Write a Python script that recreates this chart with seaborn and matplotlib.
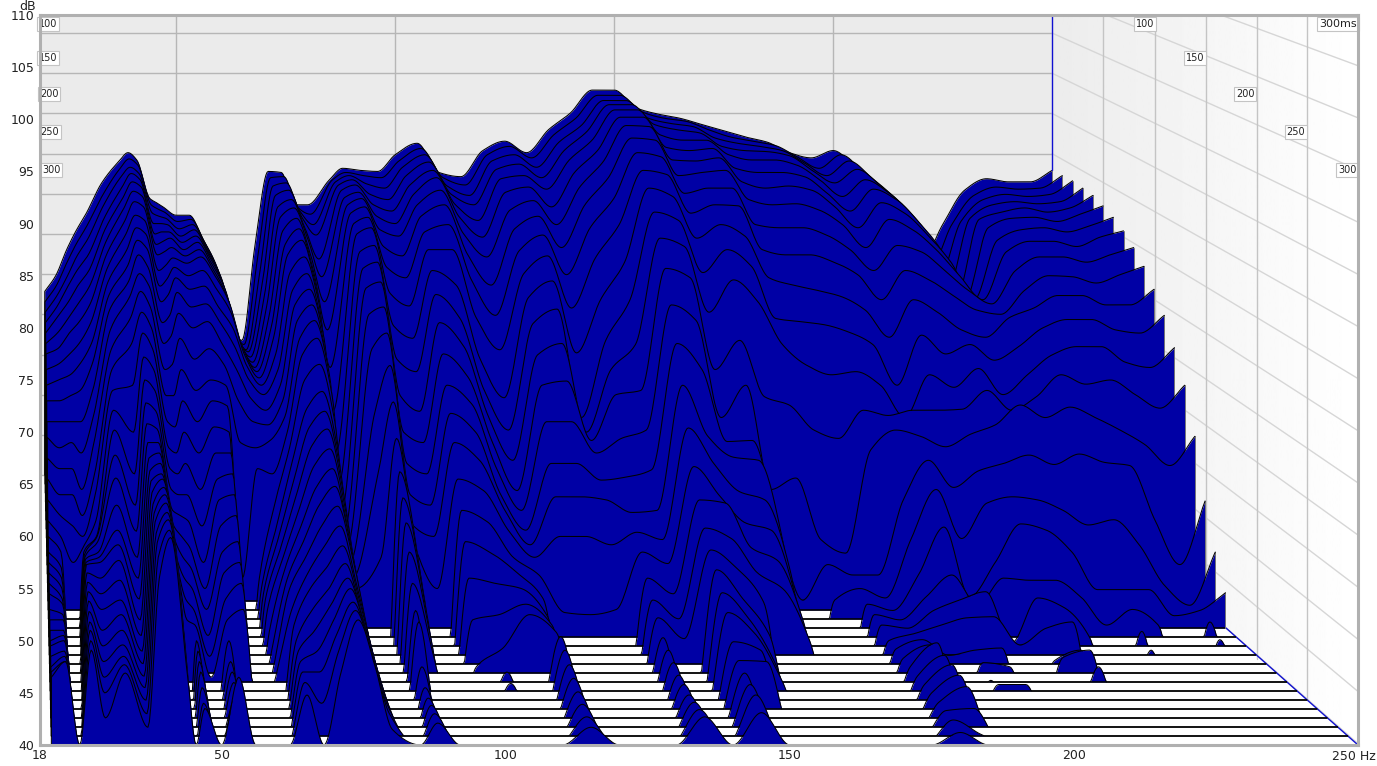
import numpy as np
import pandas as pd
import matplotlib
matplotlib.use("Agg")
import matplotlib.pyplot as plt
from matplotlib.patches import Polygon
import seaborn as sns

L = 40  # at or under the noise floor of the slice
# level in dB, one value per 10 ms slice (0..300 ms), per frequency
hz020 = [83.5,82.5,81.5,80.5,79.5,78.5,77.5,76,74.5,73,71,69.5,67.5,65.5,63.5,61.5,60,58.5,57.5,56.5,55.5,54.5,53,52,51,50,49.5,48.5,47.5,47,46.5]
hz022 = [85,84,83,82,81,79.5,78,76.5,75,73,71,68.5,66.5,64,62,60,58.5,57,56,55,54,53.5,52.5,52,51,50.5,50,49,48.5,48,48]
hz025 = [87.5,86.3,85,84,82.5,81,79.5,77.5,75.5,73.5,71,69,66.5,64,61,57.5]+[L]*15
hz027 = [89.2,88,86.8,85.5,84,82.3,80.5,78.5,76.5,74,71,68,64.5,62,60,59,58.5,58.2,58,57.8,57.5,57.3,56.5,55.6,54.7,53.8,52.8,51.8,51,50,49.1]
hz029 = [91,89.8,88.5,87,85.5,84,82.3,80.5,78.5,76.5,74,71.5,69,66,64,61.5,60,60,59.5,58.5,58,57.5,56,54.5,53,51,49.5,48,46.5,45,42.6]
hz033 = [93.9,92.7,91.7,90.5,89.4,88.2,87,85.7,84.4,83.1,81.7,79.8,77.9,76,74,72.1,70.2,67.8,65.6,63,60.6,59.2,57.7,55.8,53.9,52.5,51,49.6,48.5,47.7,46.9]
hz037 = [96,95.3,94.5,93.5,92.5,91.5,90.3,89,87.5,86,84.5,83,81,78.5,74.5,70,66,63,60.5,58,56,54,52,50.5,49,47.8,46.6,45.5,44.3,43,41.7]
hz039 = [96.8,96.2,95.4,94.8,94,93.1,92.1,90.8,89.6,88.4,87,85.2,83.5,81.5,79.5,77.2,75,72.8,70.8,69,67.5,66.3,65.3,64.2,63.1,62.2,61.4,60.3,59.4,58,56]
hz041 = [96.1,95.6,94.8,94.2,93.5,92.6,91.6,90.3,89,87.6,85.8,84,82,80,78,76,74,72,70.3,69,68,67,66,65.5,64.7,64,63.2,62.3,61.6,60.6,59.9]
hz044 = [92.4,91.8,91,90,89,88,87,85.5,84,82.5,80.5,78.5,76,73.5,71,68.5,66.5,64.5,62.5,61,59.6,58,57,56,55,53.5,52,50.5,49.5,48,46.5]
hz045 = [92,91.4,90.7,90,89.2,88.3,87.3,86,84.7,83.2,81.2,79.2,76.5,73.5,70.5,68,66,64,62,60,58,56,54,52]+[L]*7
hz047 = [91.6,91.1,90.5,89.9,89.2,88.6,87.7,86.7,85.8,84.8,83.4,81.4,79,76,73,70,67,64,61.5,59,57,55,53,51.5,50,49,48,47,45.5,44,43.5]
hz050 = [90.8,90.2,89.5,88.8,88.2,87.5,86.9,86.2,85,83.7,82,80,77,74,71,68,64.5,61,57.5,55,53,50.5,48.5,46.5]+[L]*7
hz053 = [90.8,90.4,89.9,89.4,88.8,88.2,87.5,86.8,85.5,84,82.3,80.6,78,75,73,70.5,68,65.5,63.5,61,58.5,56.5,54,52,50,48,47,46,44.5,44.5,46.5]
hz056 = [88.6,88.3,87.8,87.3,86.8,86.2,85.6,85,83.7,82,80.5,78.5,76.5,74.5,72.5,70,68,66,64,62,59.5,57.5,55.5,53]+[L]*7
hz059 = [86,85.7,85.2,84.8,84.2,83.7,83,82.5,81.5,80,78.2,76,73,69,56]+[L]*16
hz062 = [80.7,80.4,80,79.7,79.3,78.9,78.5,78,77.3,76.3,75,73.2,71,68.5,66.5,56,55,54.5,54,53,51,49,47.5,46.5]+[L]*7
hz065 = [78.8,78.4,77.9,77.7,77.2,76.7,76.2,75.8,75.2,74.5,73.6,72.1,70.7,69.2,66,63,61,60,59,58,57,56,55,53,51.5,50,49,48,47,46,44.8]
hz068 = [87.9,86.5,85.2,84,83,82,81,80,79,77.5,76,74.5,73,71.5,70,68.5,67,65.5,64,62.5,61,59.5,58,56.5,55,53,51,49,47,44,40]
hz071 = [95,94.4,93.6,92.7,91.6,90.6,89.3,88,87,85.3,83.6,82.2,80.7,79,77.4,75,72.3,70.5,68.7,66.8,64.8,63,61,59,57,55,53.5,52,50.5,49,47]
hz074 = [94.9,94.5,93.9,93.2,92.3,91.5,90.5,89.5,88.4,86.8,85.2,83.7,82.2,80.7,79,76.5,73.9,72,70.3,68.4,66.5,64.8,62.9,61,59.1,57.4,56,55,53.7,52.9,52]
hz077 = [91.8,91.6,91.2,90.5,89.5,88.5,87,85.5,84,82.5,80.5,79,77,75.5,73.5,71,68.5,66.5,64.5,62.5,60.5,59,57.5,55.5,54,52.5,51.5,50.5,49.5,48.5,47.5]
hz080 = [91.8,90.9,89.9,88.9,86.6,84.9,82.5,79.8,76.2,72,68,65,62.5,60.5,59,57.5,56,55,54,53,52,51,50,49,48,47,46,45,44,43,41.5]
hz085 = [94.2,94.2,94,93.7,93.2,92.5,91.8,91,90,89,87.3,85.7,83.8,81.3,78,72,66,58]+[L]*13
hz088 = [95.3,94.9,94.6,94.2,93.7,93,92.4,91.6,90.6,89.6,87.9,86.3,84.4,82,79.5,76.4,72.9,69.4,66.2,63.7,61.3,58.5,55.5,52.9,51.8,47.5,45.5,44.5,43.8,43,42.1]
hz092 = [95.1,94.6,93.8,92.8,91.8,90.7,89.4,87.8,85.8,83.3,80.2,77,73.5,70,67,64,61,58.5,56.5,54.5,52.5,50.5,48.5]+[L]*8
hz096 = [95,94.4,93.4,92.3,91.2,90,88.8,86.9,84.8,82.1,79,75.8,72,69,66,63,60,55]+[L]*13
hz100 = [96.6,96,95.4,94.6,93.7,92.8,91.8,90.7,89.2,87.5,85.5,83.2,80.5,77.5,74.5,71.8,69,65.5,62.5,59.5,56,52,47.5]+[L]*8
hz105 = [97.7,97.2,96.6,95.9,95.1,94.4,93.2,91.8,89.9,87.5,84.1,80.9,78.2,75.3,72.7,70,67.3,64.4,61.4,58.4,55.5,52.5,49.3,47,45.9]+[L]*6
hz110 = [94.9,94.4,93.6,92.8,91.8,90.6,89,87,84.5,81,77,74,71.5,69,66.5,64,62.5,60.5,58,56.5,55,53.5,52.5]+[L]*8
hz115 = [94.5,93.7,92.7,91.8,90.3,88.7,86.8,84.1,81.2,77.9,73.3,70.2,67.3,64.4,62.5,60.6,59.2,58,56.3,54,52.3,51.5,50.8,50.4,49.1,47.7,46.4,45.1,43.9,42.7,41.7]
hz120 = [97,96.6,96,95.2,94.3,93,91.3,89.5,87.4,85.2,82.9,80.4,77.4,74.5,71,67,63.8,60,52.7]+[L]*12
hz125 = [97.9,97.4,96.6,95.7,94.6,93.5,92.2,90.7,88.9,86.9,84.5,81.8,78.5,74.9,71,67,63.8,60,52.5]+[L]*12
hz130 = [96.8,96.3,95.4,94.4,93.3,91.6,89.9,87.7,85.1,81.9,77.6,71.4,70,69.2,68,65.4,63.5,59.2,53]+[L]*12
hz135 = [99,98.5,97.8,97,96.1,94.9,93.5,91.8,89.6,86.7,82.7,78.8,76,73.6,69.4,65.7,62.3,60.4,58.5,56,53.9,52.2,50.3,49.1,47.9,46.7,45.8,44.8,44.1,43.4,42.7]
hz140 = [100.6,100.1,99.4,98.8,98,97,95.9,94.4,92.4,89.9,86.3,82.7,78.4,74,70.2,66.4,62.5,59.7,57.4,54.5,52.1,50.2]+[L]*9
hz145 = [102.8,102.3,101.8,101.4,100.9,100.2,99.4,98.2,96.8,95.1,93.4,91.1,88.6,85.7,82.2,78.5,74.5,70.4,66.7,63.5,60.8,58.7,56.8,54.6,52.7,49.9,48.1,46.9,45.8,44.8,43.1]
hz150 = [102.8,102.3,101.8,101.4,100.9,100.2,99.3,98,96.4,94.7,92.6,90.3,87.8,84.8,80.7,76,69.6,67,63.9,63.2,59.8,56.9,54,52.1,50.7,49.1,48]+[L]*4
hz155 = [101.1,100.7,100.1,99.5,98.5,97.3,96.1,94.6,92.9,91,88.6,85.3,81.5,76,71.4,69.1,67.6,64.3,61.3,58.9,56.5,53.7,50.5,47.7,46.2]+[L]*6
hz160 = [100.5,100.1,99.6,99,98,97,96,94.9,93.4,91.8,89.9,87.5,84.6,78.8,74.5,69.2,67.3,63.5,60.6,57.7,54.9]+[L]*10
hz165 = [100.1,99.8,99.3,98.7,98,97.2,96.3,95.1,93.4,91.7,88.8,85.9,82.5,73.4,64.5,61.1,59,56.6,53.7,51.8,49.9]+[L]*10
hz170 = [99.5,99,98.2,97.4,96.6,95.3,94,92.3,89.9,87.5,84.8,80.9,78.4,72.6,65.6,53.9]+[L]*15
hz175 = [98.9,98.3,97.7,97,96.1,94.9,93.4,91.8,89.6,87,84.1,80.6,76.4,70.2,59.7,57.3,53.9]+[L]*14
hz180 = [98.3,97.9,97.4,96.9,96.1,94.9,93.6,91.9,89.6,87,83.6,80.3,75.5,69.4,58.4,56.3,55,53.5,52.5,51.5,50,49.2,48.3,47.5,46.6,45.8,45,44.1,43.3,42.4,41.2]
hz185 = [97.8,97.5,97,96.5,95.6,94.5,93.2,91.3,88.9,86.3,83,79.6,75.8,72.1,68.3,56.3,54.1,52.9,52,51.2,50.7,50.1,49.6,49.8,48.6,47.7,46.7,45.6,43.5,41,40]
hz190 = [96.8,96.4,95.8,95.1,94.2,92.9,91.6,89.9,87.5,85.1,81.7,78.4,74.5,71.6,70.2,63.5,59.7,56.3,54.2,52.9,51.5,48.6]+[L]*9
hz195 = [96.3,95.3,94.6,93.9,92.6,91.2,89.6,87.7,85.5,82.7,79.1,74.5,71.4,72.1,69.6,67.3,64.5,60.9,56.3,53.9,52.2,49.1,47.9,46.2,45.8]+[L]*6
hz200 = [97,96.6,96,95.2,94.2,93.3,92,90.4,87.9,85.5,82.7,79.3,75.5,72.1,68.6,64.7,59.8,54.2,53.4,54.7,52.3,49.3,47.5,40,45.8]+[L]*6
hz205 = [95.4,94.9,94.4,93.7,93,92.3,91,89.4,87.3,84.6,81.5,77.5,74.3,72.2,69.8,66.3,63.2,57.5,56,49.8,49.6]+[L]*10
hz210 = [93.2,92.9,92.5,91.8,91,90.1,88.9,87.5,85.5,83.1,79.8,78.4,76.1,74,70.7,67,63.8,61.2,55.8,54.1,51.2,48.1,48.4]+[L]*8
hz215 = [90.5,90.1,89.6,88.9,88.1,87.3,86.3,85,83.6,81.7,79.1,76.9,73.6,72.1,72.6,67.8,63.5,60.6,55.8,53.2,51.8,49.1,49.1,47.5]+[L]*7
hz220 = [86.3,85.6,84.6,83.6,82.9,82.7,82.7,82.7,82.3,81.3,81,78.2,75.5,73.4,71.4,66.9,62.5,58.5,54.2,50.3]+[L]*11
hz225 = [89.9,89.9,90.2,90.5,90.4,89.6,88.4,87.3,85.5,83.6,81.9,80,77.4,75.5,72.4,67.9,61.1,54.9,51.5]+[L]*12
hz230 = [93.2,92.7,92.3,91.8,91.1,90.5,89.4,88.3,86.8,85,83.1,80.8,78.2,74.6,71.4,67.1,61.6,54.9,53,50.9,49.1]+[L]*10
hz235 = [94.3,93.5,92.8,92.1,91.5,90.6,89.6,88.3,86.8,84.9,83.1,80.8,78.2,75,70.2,66.8,59.2,54.9,51.5]+[L]*12
hz240 = [94,93.3,92.6,91.9,91.1,90.2,89.2,87.8,86.3,84.3,82.2,79.8,76.7,73.6,68.8,61.6,55.3,52.4]+[L]*13
hz245 = [94,93.4,92.8,92.1,91.5,90.9,89.8,88.7,87,85.1,82.2,79.5,76.2,72.3,66.8,57.3,53.4,52.9,51.8,50.1]+[L]*11
hz250 = [95.1,94.6,94.1,93.4,92.7,91.7,90.6,89.3,87.7,85.9,83.7,81.2,78.1,74.5,69.6,63.4,58.5,54.6]+[L]*13

freqs = [20,22.5,25,27,29.5,33,37,39,41,44,45.5,47,50,53,56,59,62,65,68,71,74,77,80,85,88,92,96,100,
         105,110,115,120,125,130,135,140,145,150,155,160,165,170,175,180,185,190,195,200,205,210,215,
         220,225,230,235,240,245,250]
columns = [hz020,hz022,hz025,hz027,hz029,hz033,hz037,hz039,hz041,hz044,hz045,hz047,hz050,hz053,hz056,
           hz059,hz062,hz065,hz068,hz071,hz074,hz077,hz080,hz085,hz088,hz092,hz096,hz100,hz105,hz110,
           hz115,hz120,hz125,hz130,hz135,hz140,hz145,hz150,hz155,hz160,hz165,hz170,hz175,hz180,hz185,
           hz190,hz195,hz200,hz205,hz210,hz215,hz220,hz225,hz230,hz235,hz240,hz245,hz250]
times_ms = list(range(0, 310, 10))
db_ticks = list(range(40, 115, 5))
hz_ticks = [18, 50, 100, 150, 200, 250]
hz_tick_labels = ["18", "50", "100", "150", "200", ""]
time_labels = ["100", "150", "200", "250", "300"]

levels = np.column_stack(columns)
freqs = np.array(freqs, dtype=float)
K = len(times_ms) - 1

sns.set_theme(style="white")
plt.rcParams["font.family"] = ["DejaVu Sans"]
fig = plt.figure(figsize=(13.77, 7.66), dpi=100, facecolor="white")
ax = fig.add_axes([40/1377, (766-745)/766, 1318/1377, 730/766])
ax.set_xlim(18, 250)
ax.set_ylim(40, 110)

def hx(px):
    return 18 + (np.asarray(px, dtype=float) - 40) / 5.681

def dy(py):
    return 40 + (745 - np.asarray(py, dtype=float)) / 10.4286

def slice_x(f, k):
    # the perspective narrows the older slices toward the back plane
    x18 = 36 + 4 * k / K
    slope = 4.38 + (5.681 - 4.38) * k / K
    return hx(x18 + (np.asarray(f) - 18) * slope)

def floor_db(k):
    return dy(475 + 9 * k)

def smooth_trace(f, v, fine):
    # monotone cubic drawing of a trace through its read values (line style only)
    h = np.diff(f)
    d = np.diff(v) / h
    m = np.zeros_like(v)
    for i in range(1, len(v) - 1):
        if d[i - 1] * d[i] > 0:
            w1, w2 = 2 * h[i] + h[i - 1], h[i] + 2 * h[i - 1]
            m[i] = (w1 + w2) / (w1 / d[i - 1] + w2 / d[i])
    m[0], m[-1] = d[0], d[-1]
    i = np.clip(np.searchsorted(f, fine) - 1, 0, len(h) - 1)
    t = (fine - f[i]) / h[i]
    return ((2*t**3 - 3*t**2 + 1) * v[i] + (t**3 - 2*t**2 + t) * h[i] * m[i]
            + (-2*t**3 + 3*t**2) * v[i + 1] + (t**3 - t**2) * h[i] * m[i + 1])

GRID = "#B6B6B6"
# back wall and right wall
ax.add_patch(Polygon(np.c_[hx([40, 1052, 1052, 40]), dy([14, 14, 475, 475])], fc="#EBEBEB", ec="none", zorder=0))
ax.add_patch(Polygon(np.c_[hx([40, 1052, 1358, 40]), dy([475, 475, 745, 745])], fc="white", ec="none", zorder=0.2))
grad = ax.imshow(np.linspace(0.925, 1, 256)[None, :], extent=[hx(1052), hx(1358), 40, 110], cmap="gray",
                 vmin=0, vmax=1, aspect="auto", zorder=0.1)
grad.set_clip_path(Polygon(np.c_[hx([1052, 1358, 1358, 1052]), dy([14, 14, 745, 475])], transform=ax.transData))
ax.set_xlim(18, 250)
ax.set_ylim(40, 110)

# grid of the back wall
for j in range(0, 12):
    yb = 33 + 40.2 * j
    ax.plot(hx([40, 1052]), dy([yb, yb]), color=GRID, lw=1, zorder=0.5)
for fv in [50, 100, 150, 200]:
    xb = 1052 - (250 - fv) * 4.38
    ax.plot(hx([xb, xb]), dy([14, 475]), color=GRID, lw=1, zorder=0.5)
# grid of the right wall
for j in range(-2, 12):
    yb, yf = 33 + 40.2 * j, 170 + 52.15 * j
    xs = np.array([1052.0, 1358.0])
    ys = np.array([yb, yf])
    if yb < 14:
        xs[0] = 1052 + (14 - yb) / (yf - yb) * 306
        ys[0] = 14
    ax.plot(hx(xs), dy(ys), color="#D6D6D6", lw=1, zorder=0.5)
for xw, yw in zip([1103, 1155, 1206, 1257, 1307], [521, 567, 613, 659, 700]):
    ax.plot(hx([xw, xw]), dy([14, yw]), color="#C4C4C4", lw=1, zorder=0.6)

BLUE = "#0000A5"
fine = np.arange(20, 250.01, 0.25)
for k, t in enumerate(times_ms):
    z = 2 + k * 0.01
    fl = float(floor_db(k))
    xs = slice_x(fine, k)
    ys = np.maximum(smooth_trace(freqs, levels[k].astype(float), fine), fl)
    ax.fill_between(xs, fl, ys, color=BLUE, lw=0, zorder=z)
    ax.plot([xs[0], xs[-1]], [fl, fl], color="black", lw=1.15, zorder=z + 0.001, solid_capstyle="butt")
    ax.plot([xs[-1], xs[-1]], [fl, ys[-1]], color="#777777", lw=0.7, zorder=z + 0.002)
    frame = pd.DataFrame({"hz": np.r_[xs[0], xs], "db": np.r_[fl, ys]})
    sns.lineplot(data=frame, x="hz", y="db", color="black", lw=0.75, sort=False, estimator=None,
                 legend=False, ax=ax, zorder=z + 0.003)

# blue edges of the plot box
ax.plot(hx([1052, 1052]), dy([14, 170]), color="#1010D0", lw=1, zorder=3)
ax.plot(hx([1226, 1358]), dy([628, 745]), color="#1010D0", lw=1, zorder=1.5)

# time labels
box = dict(boxstyle="square,pad=0.2", fc="white", ec="#C4C4C4", lw=0.8)
for lab, xl, xr, yp in zip(time_labels, [48, 48, 49, 50, 51], [1145, 1195, 1245, 1296, 1347], [24, 58, 94, 132, 170]):
    ax.text(hx(xl), dy(yp), lab, fontsize=7, ha="center", va="center", color="#222222", bbox=box, zorder=4)
    ax.text(hx(xr), dy(yp), lab, fontsize=7, ha="center", va="center", color="#222222", bbox=box, zorder=4)
ax.text(hx(1338), dy(24), "300ms", fontsize=8, ha="center", va="center", color="#222222", bbox=box, zorder=4)

ax.set_xticks(hz_ticks)
ax.set_xticklabels(hz_tick_labels)
ax.set_yticks(db_ticks)
ax.set_xlabel("")
ax.set_ylabel("")
ax.tick_params(axis="both", length=0, labelsize=9, labelcolor="#222222")
ax.tick_params(axis="x", pad=3)
ax.tick_params(axis="y", pad=4)
for s in ax.spines.values():
    s.set_color("#B0B0B0")
    s.set_linewidth(2.2)
    s.set_zorder(6)
fig.text(1376/1377, 1 - 757/766, "250 Hz", fontsize=9, ha="right", va="center", color="#222222")
fig.text(28/1377, 1 - 6/766, "dB", fontsize=9, ha="center", va="center", color="#222222")

fig.savefig("out.png", dpi=100, facecolor="white")
